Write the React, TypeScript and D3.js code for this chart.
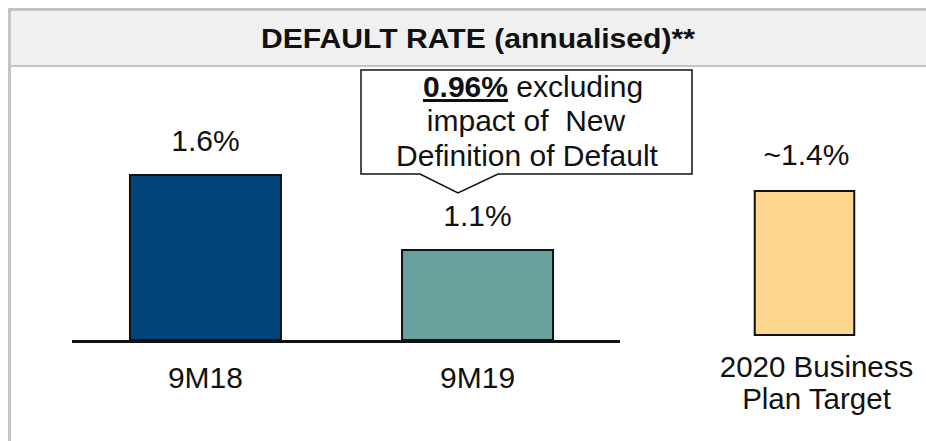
import * as d3 from "d3";

const categories = ["9M18", "9M19"];
const values = [1.6, 1.1];
const valueLabels = ["1.6%", "1.1%"];

const targetCategory = "2020 Business Plan Target";
const targetLines = ["2020 Business", "Plan Target"];
const targetValue = 1.4;
const targetLabel = "~1.4%";

const calloutLines = ["excluding", "impact of  New", "Definition of Default"];
const calloutValue = "0.96%";

const colors = ["#02457a", "#66a19e"];
const targetColor = "#fdd68f";

const width = 926;
const height = 441;
const font = "'Liberation Sans', Arial, sans-serif";

const App = () => {
  const baseline = 340;
  const targetBase = 335;

  const xScale = d3
    .scaleBand()
    .domain(categories)
    .range([72, 611])
    .paddingInner(0.445)
    .paddingOuter(0.213);

  // bars do not start from zero in the source slide
  const yScale = d3.scaleLinear().domain([0.5, 1.6]).range([baseline, 175]);

  const xTarget = d3
    .scaleBand()
    .domain([targetCategory])
    .range([705, 904])
    .paddingInner(0)
    .paddingOuter(0.5);

  const yTarget = d3.scaleLinear().domain([0.45, 1.4]).range([targetBase, 191]);
  const targetMid = (xTarget(targetCategory) ?? 0) + xTarget.bandwidth() / 2;

  return (
    <svg
      width={width}
      height={height}
      style={{ position: "fixed", left: 0, top: 0, background: "#fff" }}
      fontFamily={font}
    >
      {/* frame + header */}
      <rect x={9} y={9} width={width} height={57} fill="#f0f0f0" />
      <line x1={9} y1={9.5} x2={width} y2={9.5} stroke="#c4c4c4" strokeWidth={3} />
      <line x1={9} y1={66} x2={width} y2={66} stroke="#c4c4c4" strokeWidth={2} />
      <line x1={9.5} y1={8} x2={9.5} y2={height} stroke="#c4c4c4" strokeWidth={3} />
      <text
        x={478}
        y={48}
        textAnchor="middle"
        fontSize={27.5}
        fontWeight="bold"
        fill="#111"
        textLength={434}
        lengthAdjust="spacingAndGlyphs"
      >
        DEFAULT RATE (annualised)**
      </text>

      {/* callout */}
      <path
        d="M361,70 H692 V174 H498 L458,193 L420,174 H361 Z"
        fill="#fff"
        stroke="#111"
        strokeWidth={1.5}
      />
      <text x={533} y={97} textAnchor="middle" fontSize={30} fill="#111">
        <tspan fontWeight="bold" textDecoration="underline">{calloutValue}</tspan>
        <tspan> {calloutLines[0]}</tspan>
      </text>
      <text x={526} y={131} textAnchor="middle" fontSize={30} fill="#111" style={{ whiteSpace: "pre" }}>
        {calloutLines[1]}
      </text>
      <text x={527} y={166} textAnchor="middle" fontSize={30} fill="#111">
        {calloutLines[2]}
      </text>

      {/* bars */}
      <g className="bars">
        {categories.map((c, i) => (
          <g key={c}>
            <rect
              x={xScale(c)}
              y={yScale(values[i])}
              width={xScale.bandwidth()}
              height={baseline - yScale(values[i])}
              fill={colors[i]}
              stroke="#111"
              strokeWidth={2}
            />
            <text
              x={(xScale(c) ?? 0) + xScale.bandwidth() / 2}
              y={yScale(values[i]) - 24}
              textAnchor="middle"
              fontSize={30}
              fill="#111"
            >
              {valueLabels[i]}
            </text>
            <text
              x={(xScale(c) ?? 0) + xScale.bandwidth() / 2}
              y={388}
              textAnchor="middle"
              fontSize={30}
              fill="#111"
            >
              {c}
            </text>
          </g>
        ))}
      </g>
      <line x1={72} y1={baseline + 1.5} x2={620} y2={baseline + 1.5} stroke="#111" strokeWidth={3} />

      {/* target */}
      <rect
        x={xTarget(targetCategory)}
        y={yTarget(targetValue)}
        width={xTarget.bandwidth()}
        height={targetBase - yTarget(targetValue)}
        fill={targetColor}
        stroke="#111"
        strokeWidth={2}
      />
      <text
        x={targetMid + 2}
        y={yTarget(targetValue) - 26}
        textAnchor="middle"
        fontSize={30}
        fill="#111"
      >
        {targetLabel}
      </text>
      {targetLines.map((t, i) => (
        <text
          key={t}
          x={targetMid + 12}
          y={377 + i * 32}
          textAnchor="middle"
          fontSize={29.5}
          fill="#111"
        >
          {t}
        </text>
      ))}
    </svg>
  );
};

export default App;
